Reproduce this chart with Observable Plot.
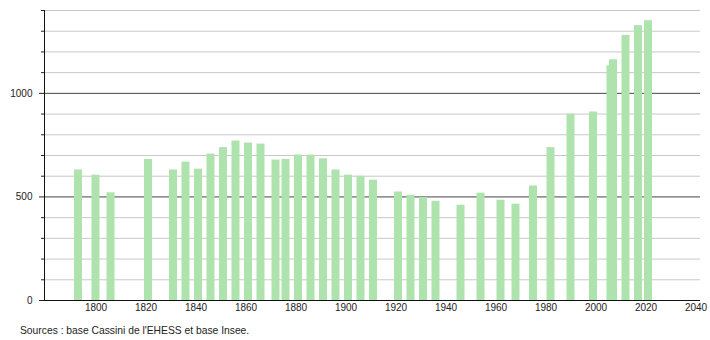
<!DOCTYPE html>
<html><head><meta charset="utf-8">
<script src="https://cdn.jsdelivr.net/npm/d3@7"></script>
<script src="https://cdn.jsdelivr.net/npm/@observablehq/plot@0.6"></script>
<style>
body{margin:0;background:#fff;font-family:"Liberation Sans",Arial,sans-serif;}
#caption{font-size:10.3px;color:#222;padding:5px 0 0 20px;line-height:1.2;}
</style></head><body><div id="chart"></div><div id="caption"></div><script>
const years = [1793,1800,1806,1821,1831,1836,1841,1846,1851,1856,1861,1866,1872,1876,1881,1886,1891,1896,1901,1906,1911,1921,1926,1931,1936,1946,1954,1962,1968,1975,1982,1990,1999,2006,2007,2012,2017,2021];
const population = [630,605,520,681,630,668,634,707,738,770,760,755,678,681,702,702,684,630,605,600,581,524,508,497,479,460,518,484,465,553,738,899,910,1133,1162,1280,1327,1351];
const xTickYears = [1800,1820,1840,1860,1880,1900,1920,1940,1960,1980,2000,2020,2040];
const yLabelTicks = [0,500,1000];
const yMinorTicks = [100,200,300,400,600,700,800,900,1100,1200,1300,1400];
const sourceText = "Sources : base Cassini de l'EHESS et base Insee.";

const data = years.map((year, i) => ({year, population: population[i]}));
const xDomain = [1779.4, 2041.8];
const chart = Plot.plot({
  width: 710, height: 320,
  marginLeft: 44, marginRight: 10, marginTop: 10, marginBottom: 20,
  style: {fontFamily: "Liberation Sans, Arial, sans-serif", fontSize: "10px", color: "#222", background: "#fff"},
  x: {domain: xDomain, label: null},
  y: {domain: [0, 1400], label: null},
  marks: [
    Plot.ruleY(yMinorTicks, {stroke: "#c8c8c8"}),
    Plot.ruleY([500, 1000], {stroke: "#444"}),
    Plot.rectY(data, {x1: d => d.year - 1.6, x2: d => d.year + 1.6, y: "population", fill: "#aee3ae"}),
    Plot.axisY(yMinorTicks, {tickSize: 3, tickFormat: () => "", stroke: "#222", label: null}),
    Plot.axisY(yLabelTicks, {tickSize: 5, tickPadding: 7, tickFormat: d => String(d), stroke: "#222", label: null}),
    Plot.axisX(xTickYears, {tickSize: 0, tickPadding: 3, tickFormat: d => String(d), label: null}),
    Plot.ruleX([xDomain[0]], {y1: 0, y2: 1400, stroke: "#111"}),
    Plot.ruleY([0], {stroke: "#111"})
  ]
});
document.getElementById("chart").appendChild(chart);
document.getElementById("caption").textContent = sourceText;
</script></body></html>
